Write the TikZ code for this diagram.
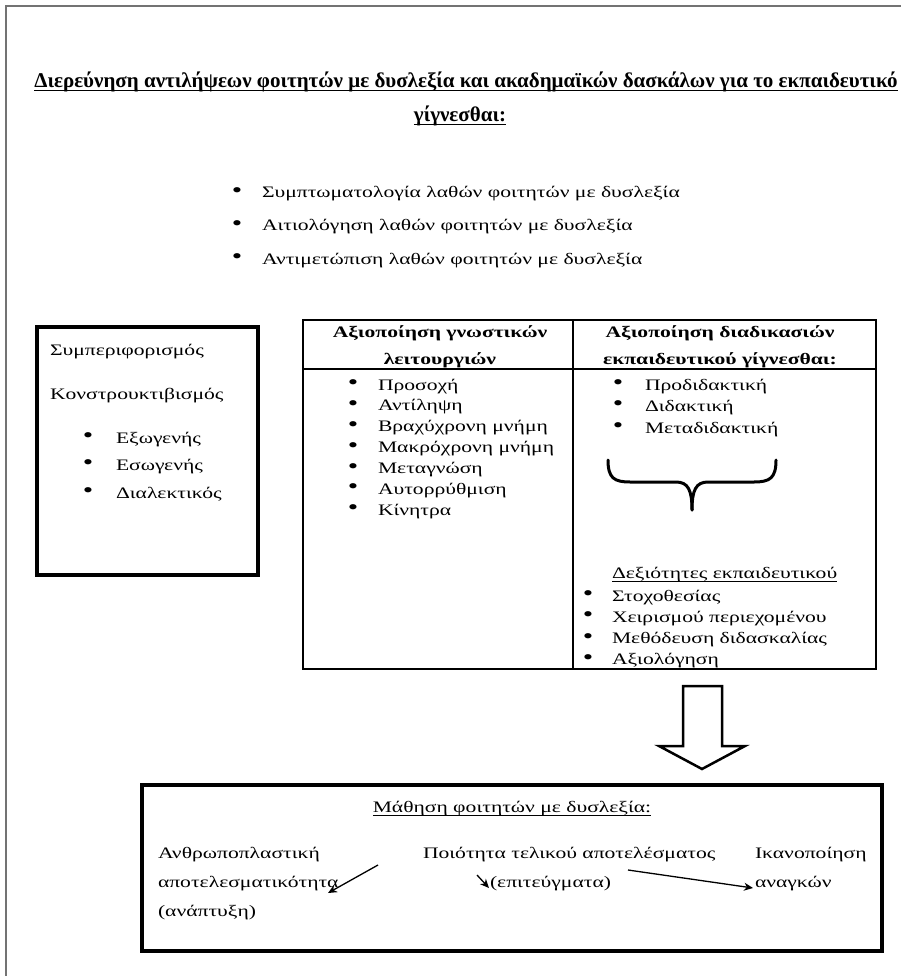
\documentclass[tikz,border=0pt]{standalone}
\usepackage{fontspec}
\setmainfont[FakeStretch=1.35]{Liberation Serif}
\newfontfamily\titlefont{Liberation Serif}
\usetikzlibrary{arrows.meta}
\begin{document}
\begin{tikzpicture}[x=1pt,y=-1pt,
  every node/.style={inner sep=0pt, outer sep=0pt},
  body/.style={font=\fontsize{16}{20}\selectfont, anchor=base west},
  bul/.style={font=\fontsize{22}{24}\selectfont, anchor=center},
  hdr/.style={font=\fontsize{16}{20}\selectfont\bfseries, anchor=base},
  ttl/.style={font=\titlefont\bfseries\fontsize{21}{24}\selectfont, anchor=base},
  uline/.style={line width=1pt},
  thickbox/.style={draw, line width=3.5pt},
  thinline/.style={draw, line width=1.3pt},
  frameline/.style={draw=black!55, line width=2pt},
  conn/.style={line width=1.3pt, -{Stealth[length=9pt,width=8pt]}},
]
\useasboundingbox (0,0) rectangle (901,976);
% outer frame
\draw[frameline] (6,976) -- (6,6) -- (901,6);

% title
\node[ttl] (title1) at (466,88) {Διερεύνηση αντιλήψεων φοιτητών με δυσλεξία και ακαδημαϊκών δασκάλων για το εκπαιδευτικό};
\node[ttl] (title2) at (460,122) {γίγνεσθαι:};
\draw[uline] ([yshift=-3pt]title1.base west) -- ([yshift=-3pt]title1.base east);
\draw[uline] ([yshift=-3pt]title2.base west) -- ([yshift=-3pt]title2.base east);

% top bullets
\node[bul] (tb1) at (237,192.5) {•};
\node[body] (tt1) at (262,198) {Συμπτωματολογία λαθών φοιτητών με δυσλεξία};
\node[bul] (tb2) at (237,225.5) {•};
\node[body] (tt2) at (262,231) {Αιτιολόγηση λαθών φοιτητών με δυσλεξία};
\node[bul] (tb3) at (237,258.5) {•};
\node[body] (tt3) at (262,264) {Αντιμετώπιση λαθών φοιτητών με δυσλεξία};

% left box
\draw[thickbox] (37,327) rectangle (258,575);
\node[body] (l1) at (50,355) {Συμπεριφορισμός};
\node[body] (l2) at (50,399) {Κονστρουκτιβισμός};
\node[bul] (lb1) at (88,437.5) {•};
\node[body] (l3) at (116,443) {Εξωγενής};
\node[bul] (lb2) at (88,464.5) {•};
\node[body] (l4) at (116,470) {Εσωγενής};
\node[bul] (lb3) at (88,492.5) {•};
\node[body] (l5) at (116,498) {Διαλεκτικός};

% table
\draw[thinline] (303,320) rectangle (876,669);
\draw[thinline] (573,320) -- (573,669);
\draw[thinline] (303,369) -- (876,369);
\node[hdr] (h1a) at (440,337) {Αξιοποίηση γνωστικών};
\node[hdr] (h1b) at (440,364) {λειτουργιών};
\node[hdr] (h2a) at (720,337) {Αξιοποίηση διαδικασιών};
\node[hdr] (h2b) at (720,364) {εκπαιδευτικού γίγνεσθαι:};

\foreach \t [count=\i from 0] in {Προσοχή,Αντίληψη,Βραχύχρονη μνήμη,Μακρόχρονη μνήμη,Μεταγνώση,Αυτορρύθμιση,Κίνητρα}{
  \node[bul] (cb\i) at (353,{384.5+20.9*\i}) {•};
  \node[body] (ct\i) at (378,{390+20.9*\i}) {\t};
}
\foreach \t [count=\i from 0] in {Προδιδακτική,Διδακτική,Μεταδιδακτική}{
  \node[bul] (db\i) at (618,{384.5+21.5*\i}) {•};
  \node[body] (dt\i) at (645,{390+21.5*\i}) {\t};
}
% brace
\draw[line width=3pt, line cap=round] (608,460) .. controls (608,478) and (614,482) .. (630,482) -- (676,482) .. controls (688,482) and (692,490) .. (692,510);
\draw[line width=3pt, line cap=round] (776,460) .. controls (776,478) and (770,482) .. (754,482) -- (708,482) .. controls (696,482) and (692,490) .. (692,510);

\node[body] (sk) at (612,578) {Δεξιότητες εκπαιδευτικού};
\draw[uline] ([yshift=-3pt]sk.base west) -- ([yshift=-3pt]sk.base east);
\foreach \t [count=\i from 0] in {Στοχοθεσίας,Χειρισμού περιεχομένου,Μεθόδευση διδασκαλίας,Αξιολόγηση}{
  \node[bul] (sb\i) at (588,{595.5+21.3*\i}) {•};
  \node[body] (st\i) at (612,{601+21.3*\i}) {\t};
}

% hollow arrow
\draw[line width=2.5pt, line join=miter] (683,686) -- (722,686) -- (722,746) -- (745,746) -- (702,769) -- (659,746) -- (683,746) -- cycle;

% bottom box
\draw[thickbox] (142,785) rectangle (882,951);
\node[body, anchor=base] (lt) at (512,812) {Μάθηση φοιτητών με δυσλεξία:};
\draw[uline] ([yshift=-3pt]lt.base west) -- ([yshift=-3pt]lt.base east);
\node[body] (r1a) at (158,858) {Ανθρωποπλαστική};
\node[body] (r1b) at (158,887) {αποτελεσματικότητα};
\node[body] (r1c) at (158,916) {(ανάπτυξη)};
\node[body] (r2a) at (423,858) {Ποιότητα τελικού αποτελέσματος};
\node[body] (r2b) at (490,887) {(επιτεύγματα)};
\node[body] (r3a) at (755,858) {Ικανοποίηση};
\node[body] (r3b) at (755,887) {αναγκών};
\coordinate (a1s) at (378,865);
\coordinate (a1e) at (328,893);
\coordinate (a2s) at (477,875);
\coordinate (a2e) at (489,888);
\coordinate (a3s) at (628,870);
\coordinate (a3e) at (753,888);
\draw[conn] (a1s) -- (a1e);
\draw[conn] (a2s) -- (a2e);
\draw[conn] (a3s) -- (a3e);
\end{tikzpicture}
\end{document}
